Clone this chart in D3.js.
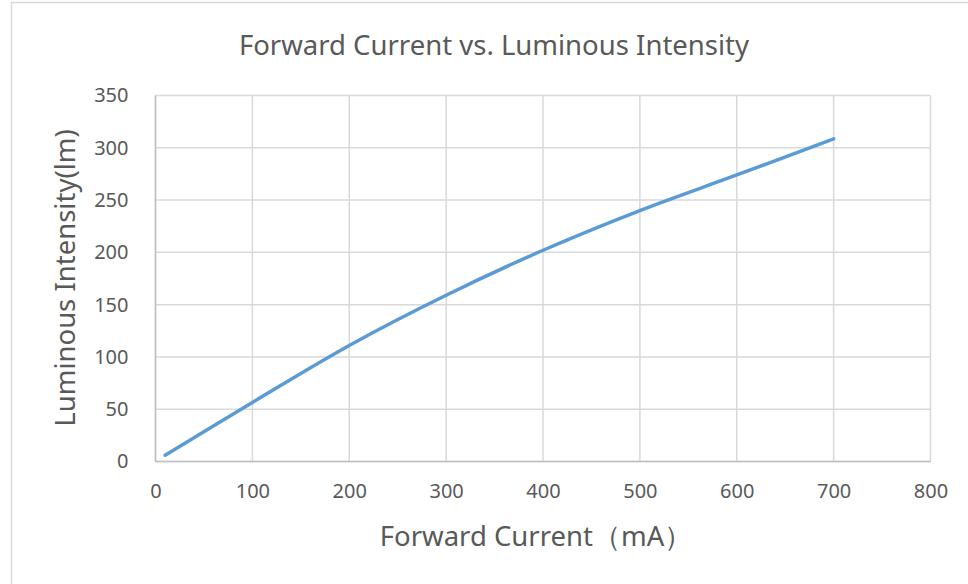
<!DOCTYPE html>
<html lang="en">
<head>
	<meta charset="UTF-8">
	<title>Forward Current vs. Luminous Intensity</title>
	<script src="https://cdn.jsdelivr.net/npm/d3@7"></script>
</head>
<style>
	body { margin: 0; background: #fff; }
	text { font-family: "Noto Sans", "Open Sans", sans-serif; fill: #595959; }
</style>
<body>
	<script type="text/javascript">
		var width = 968;
		var height = 584;

		// data
		var current = [10, 100, 200, 300, 400, 500, 600, 700];
		var intensity = [6, 56.5, 111, 159, 202, 240, 274, 308.5];
		var xTicks = [0, 100, 200, 300, 400, 500, 600, 700, 800];
		var yTicks = [0, 50, 100, 150, 200, 250, 300, 350];

		var margin = {left: 155.5, right: 37.5, top: 95.5, bottom: 122.5};

		var svg = d3.select('body')
					.append('svg')
					.attr('width', width)
					.attr('height', height);

		// outer chart border (only left and top show in the crop)
		svg.append('rect')
		   .attr('x', 11.5).attr('y', 2.5)
		   .attr('width', width).attr('height', height)
		   .attr('fill', 'none')
		   .attr('stroke', '#d9d9d9')
		   .attr('stroke-width', 1.5);

		var x = d3.scaleLinear().domain([0, 800]).range([margin.left, width - margin.right]);
		var y = d3.scaleLinear().domain([0, 350]).range([height - margin.bottom, margin.top]);

		// grid
		svg.append('g')
		   .selectAll('line')
		   .data(yTicks)
		   .enter()
		   .append('line')
		   .attr('x1', x(0)).attr('x2', x(800))
		   .attr('y1', function(d){ return y(d); })
		   .attr('y2', function(d){ return y(d); })
		   .attr('stroke', '#d9d9d9')
		   .attr('stroke-width', 1.5);

		svg.append('g')
		   .selectAll('line')
		   .data(xTicks)
		   .enter()
		   .append('line')
		   .attr('x1', function(d){ return x(d); })
		   .attr('x2', function(d){ return x(d); })
		   .attr('y1', y(0)).attr('y2', y(350))
		   .attr('stroke', '#d9d9d9')
		   .attr('stroke-width', 1.5);

		// axes lines
		svg.append('line')
		   .attr('x1', x(0)).attr('x2', x(800)).attr('y1', y(0)).attr('y2', y(0))
		   .attr('stroke', '#bfbfbf').attr('stroke-width', 1.5);
		svg.append('line')
		   .attr('x1', x(0)).attr('x2', x(0)).attr('y1', y(0)).attr('y2', y(350))
		   .attr('stroke', '#bfbfbf').attr('stroke-width', 1.5);

		// tick labels
		var xAxis = d3.axisBottom(x).tickValues(xTicks).tickSize(0).tickPadding(22);
		svg.append('g')
		   .attr('transform', 'translate(0,' + y(0) + ')')
		   .call(xAxis)
		   .call(function(g){ g.select('.domain').remove(); })
		   .selectAll('text')
		   .style('font-size', '20px')
		   .attr('fill', '#595959');

		var yAxis = d3.axisLeft(y).tickValues(yTicks).tickSize(0).tickPadding(27);
		svg.append('g')
		   .attr('transform', 'translate(' + x(0) + ',0)')
		   .call(yAxis)
		   .call(function(g){ g.select('.domain').remove(); })
		   .selectAll('text')
		   .style('font-size', '20px')
		   .attr('fill', '#595959');

		// the curve
		var line = d3.line()
					 .x(function(d){ return x(d[0]); })
					 .y(function(d){ return y(d[1]); })
					 .curve(d3.curveCatmullRom.alpha(0.5));

		svg.append('path')
		   .datum(d3.zip(current, intensity))
		   .attr('d', line)
		   .attr('fill', 'none')
		   .attr('stroke', '#5b9bd5')
		   .attr('stroke-width', 3.5)
		   .attr('stroke-linecap', 'round');

		// titles
		svg.append('text')
		   .attr('x', 494).attr('y', 55)
		   .attr('text-anchor', 'middle')
		   .style('font-size', '27.5px')
		   .text('Forward Current vs. Luminous Intensity');

		svg.append('text')
		   .attr('x', 536).attr('y', 546)
		   .attr('text-anchor', 'middle')
		   .style('font-size', '27.5px')
		   .text('Forward Current（mA）');

		svg.append('text')
		   .attr('transform', 'translate(75,278) rotate(-90)')
		   .attr('text-anchor', 'middle')
		   .style('font-size', '27.5px')
		   .text('Luminous Intensity(lm)');
	</script>
</body>
</html>
